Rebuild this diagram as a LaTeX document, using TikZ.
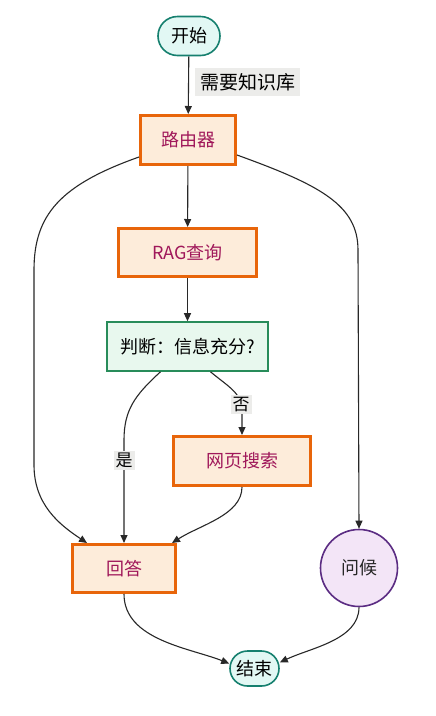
\documentclass[tikz,border=0pt]{standalone}
\usepackage{fontspec}
\setmainfont{Noto Sans CJK SC}
\usetikzlibrary{arrows.meta,shapes.misc}
\definecolor{orbrd}{RGB}{232,101,10}
\definecolor{orfill}{RGB}{253,236,218}
\definecolor{mag}{RGB}{160,24,90}
\definecolor{grbrd}{RGB}{40,140,90}
\definecolor{grfill}{RGB}{232,248,238}
\definecolor{tlbrd}{RGB}{22,128,111}
\definecolor{tlfill}{RGB}{226,248,244}
\definecolor{pubrd}{RGB}{91,44,131}
\definecolor{pufill}{RGB}{243,229,247}
\definecolor{lnc}{RGB}{40,40,40}
\definecolor{lblbg}{RGB}{236,236,234}
\tikzset{
  base/.style={font=\fontsize{18}{21}\selectfont, inner sep=0pt},
  term/.style={base, rounded rectangle, draw=tlbrd, fill=tlfill, line width=1.6pt, text=black},
  procbox/.style={base, rectangle, draw=orbrd, fill=orfill, line width=3pt, text=mag},
  decbox/.style={base, rectangle, draw=grbrd, fill=grfill, line width=1.6pt, text=black},
  circ/.style={base, circle, draw=pubrd, fill=pufill, line width=1.6pt, text=black!85, minimum size=77pt},
  lbl/.style={font=\fontsize{17}{20}\selectfont, fill=lblbg, inner sep=2pt, text=black},
  biglbl/.style={font=\fontsize{19}{22}\selectfont, fill=lblbg, inner xsep=5pt, inner ysep=5pt, text=black},
  arr/.style={draw=lnc, line width=1.1pt, -{Triangle[length=8pt,width=7pt]}}
}
\begin{document}
\begin{tikzpicture}[x=1pt,y=-1pt]
\useasboundingbox[fill=white] (0,0) rectangle (436,716);
\node[term, minimum width=62pt, minimum height=39pt] (start) at (189,36) {开始};
\node[procbox, minimum width=95pt, minimum height=49pt] (router) at (188,140) {路由器};
\node[procbox, minimum width=138pt, minimum height=48pt] (rag) at (187.5,252.5) {RAG查询};
\node[decbox, minimum width=161pt, minimum height=49pt] (judge) at (187.5,346.5) {判断：信息充分?};
\node[procbox, minimum width=137pt, minimum height=49pt] (web) at (242,461) {网页搜索};
\node[procbox, minimum width=103pt, minimum height=48pt] (answer) at (124,568.5) {回答};
\node[circ] (greet) at (359,568) {问候};
\node[term, minimum width=49pt, minimum height=35pt] (end) at (254.5,668.5) {结束};

\draw[arr] (start) -- node[biglbl, anchor=west, xshift=6pt, pos=0.45] {需要知识库} (router);
\draw[arr] (router) -- (rag);
\draw[arr] (rag) -- (judge);
\draw[arr] ([yshift=-17pt]router.west) .. controls (60,185) and (34,215) .. (34,270) -- (34,465) .. controls (34,505) and (60,525) .. ([xshift=-37pt]answer.north);
\draw[arr] ([yshift=-15pt]router.east) .. controls (320,185) and (358,205) .. (358,250) -- (greet.north);
\draw[arr] ([xshift=-27pt]judge.south) .. controls (135,395) and (124,410) .. (124,440) -- node[lbl, pos=0.2] {是} (answer.north);
\draw[arr] ([xshift=23pt]judge.south) .. controls (230,388) and (242,393) .. node[lbl, pos=0.85] {否} (242,412) -- (web.north);
\draw[arr] (web.south) .. controls (242,515) and (200,525) .. ([xshift=48pt]answer.north);
\draw[arr] (answer.south) .. controls (124,640) and (190,648) .. ([yshift=5pt]end.west);
\draw[arr] (greet.south) .. controls (359,640) and (310,648) .. ([yshift=6pt]end.east);
\end{tikzpicture}
\end{document}
